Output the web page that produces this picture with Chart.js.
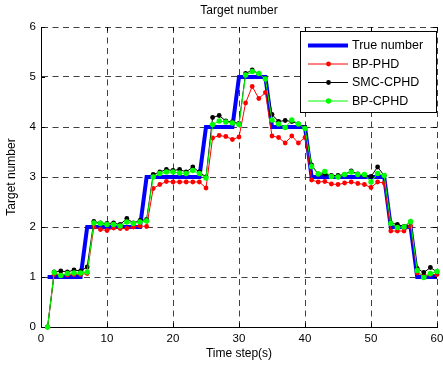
<!DOCTYPE html>
<html>
<head>
<meta charset="utf-8">
<script src="https://cdn.jsdelivr.net/npm/chart.js@4.4.1/dist/chart.umd.min.js"></script>
<style>
html,body{margin:0;padding:0;background:#fff;}
#c{display:block;}
</style>
</head>
<body>
<canvas id="c" width="443" height="367"></canvas>
<script>
const chartTitle = "Target number";
const xAxisTitle = "Time step(s)";
const yAxisTitle = "Target number";
const seriesNames = ["True number", "BP-PHD", "SMC-CPHD", "BP-CPHD"];
const xTicks = [0, 10, 20, 30, 40, 50, 60];
const yTicks = [0, 1, 2, 3, 4, 5, 6];

const timeSteps = [1,2,3,4,5,6,7,8,9,10,11,12,13,14,15,16,17,18,19,20,
  21,22,23,24,25,26,27,28,29,30,31,32,33,34,35,36,37,38,39,40,
  41,42,43,44,45,46,47,48,49,50,51,52,53,54,55,56,57,58,59,60];

const trueNumber = [1,1,1,1,1,1,2,2,2,2,2,2,2,2,2,3,3,3,3,3,
  3,3,3,3,4,4,4,4,4,5,5,5,5,5,4,4,4,4,4,4,
  3,3,3,3,3,3,3,3,3,3,3,3,2,2,2,2,1,1,1,1];

const bpPhd = [0,1.05,1.05,1.04,1.05,1.05,1.07,2.00,1.95,1.93,1.98,1.97,1.97,2.00,2.02,2.01,2.77,2.85,2.91,2.90,
  2.90,2.90,2.90,2.90,2.78,3.78,3.83,3.81,3.75,3.80,4.48,4.81,4.57,4.69,3.82,3.79,3.68,3.82,3.68,3.79,
  2.94,2.90,2.91,2.86,2.85,2.88,2.90,2.87,2.85,2.79,2.90,2.88,1.92,1.92,1.92,2.02,1.08,1.03,1.05,1.05];

const smcCphd = [0,1.10,1.12,1.10,1.14,1.12,1.20,2.11,2.08,2.07,2.08,2.05,2.17,2.08,2.13,2.15,3.05,3.10,3.15,3.13,
  3.15,3.10,3.20,3.10,3.00,4.19,4.23,4.12,4.10,4.07,5.07,5.14,5.06,4.97,4.25,4.11,4.13,4.11,4.06,3.99,
  3.24,3.06,3.06,3.03,3.03,3.05,3.12,3.06,3.03,3.01,3.20,3.03,2.08,2.05,2.01,2.10,1.17,1.09,1.19,1.10];

const bpCphd = [0,1.09,1.03,1.07,1.08,1.08,1.10,2.08,2.07,2.05,2.05,2.02,2.10,2.07,2.10,2.12,3.00,3.07,3.10,3.10,
  3.08,3.07,3.13,3.07,2.98,4.05,4.12,4.10,4.08,4.05,5.04,5.11,5.07,4.96,4.14,4.06,3.99,4.14,4.06,3.97,
  3.21,3.06,3.11,3.01,3.00,3.05,3.10,3.05,3.05,2.90,3.07,3.03,2.07,1.99,2.00,2.11,1.13,0.99,1.07,1.11];

const FONT = "'Liberation Sans', Arial, sans-serif";

function pts(arr) { return timeSteps.map((t, i) => ({ x: t, y: arr[i] })); }

const styles = [
  { color: '#0000ff', width: 4, radius: 0 },
  { color: '#ff0000', width: 1, radius: 2.4 },
  { color: '#000000', width: 1, radius: 2.4 },
  { color: '#00ff00', width: 1, radius: 2.7 }
];
const seriesData = [trueNumber, bpPhd, smcCphd, bpCphd];

const datasets = seriesData.map((arr, i) => ({
  label: seriesNames[i],
  data: pts(arr),
  borderColor: styles[i].color,
  backgroundColor: styles[i].color,
  borderWidth: styles[i].width,
  pointRadius: styles[i].radius,
  pointBorderWidth: 0,
  pointBackgroundColor: styles[i].color,
  tension: 0,
  clip: false,
  order: 4 - i
}));

const decorPlugin = {
  id: 'decor',
  afterDraw(chart) {
    const ctx = chart.ctx;
    const a = chart.chartArea;
    const xs = chart.scales.x, ys = chart.scales.y;
    ctx.save();
    // inward tick marks
    ctx.strokeStyle = '#000';
    ctx.lineWidth = 1;
    ctx.beginPath();
    xTicks.forEach(v => {
      const px = Math.round(xs.getPixelForValue(v)) + 0.5;
      ctx.moveTo(px, a.bottom); ctx.lineTo(px, a.bottom - 4);
      ctx.moveTo(px, a.top); ctx.lineTo(px, a.top + 4);
    });
    yTicks.forEach(v => {
      const py = Math.round(ys.getPixelForValue(v)) + 0.5;
      ctx.moveTo(a.left, py); ctx.lineTo(a.left + 4, py);
      ctx.moveTo(a.right, py); ctx.lineTo(a.right - 4, py);
    });
    ctx.stroke();

    // titles
    ctx.fillStyle = '#000';
    ctx.font = '12px ' + FONT;
    ctx.textAlign = 'center';
    ctx.textBaseline = 'middle';
    const cx = (a.left + a.right) / 2;
    ctx.fillText(chartTitle, cx, 11);
    ctx.fillText(xAxisTitle, cx, 354);
    ctx.save();
    ctx.translate(12, (a.top + a.bottom) / 2);
    ctx.rotate(-Math.PI / 2);
    ctx.fillText(yAxisTitle, 0, 0);
    ctx.restore();

    // legend
    const bx = 300.5, by = 31.5, bw = 136, bh = 81;
    ctx.fillStyle = '#fff';
    ctx.fillRect(bx, by, bw, bh);
    ctx.strokeStyle = '#000';
    ctx.lineWidth = 1;
    ctx.strokeRect(bx, by, bw, bh);
    const rows = [45.5, 64, 82.5, 101];
    ctx.font = '12.5px ' + FONT;
    ctx.textAlign = 'left';
    chart.data.datasets.forEach((ds, i) => {
      const y = rows[i];
      ctx.strokeStyle = ds.borderColor;
      ctx.lineWidth = ds.borderWidth;
      ctx.beginPath();
      ctx.moveTo(308, y); ctx.lineTo(348, y);
      ctx.stroke();
      if (ds.pointRadius > 0) {
        ctx.fillStyle = ds.borderColor;
        ctx.beginPath();
        ctx.arc(328.5, y, ds.pointRadius, 0, Math.PI * 2);
        ctx.fill();
      }
      ctx.fillStyle = '#000';
      ctx.fillText(ds.label, 352, y + 0.5);
    });
    ctx.restore();
  }
};

new Chart(document.getElementById('c'), {
  type: 'line',
  data: { datasets },
  options: {
    responsive: false,
    animation: false,
    devicePixelRatio: 1,
    layout: { padding: { left: 0, right: 6, top: 27, bottom: 0 } },
    plugins: { legend: { display: false }, title: { display: false }, tooltip: { enabled: false } },
    scales: {
      x: {
        type: 'linear', min: 0, max: 60,
        afterBuildTicks: s => { s.ticks = xTicks.map(v => ({ value: v })); },
        afterFit: s => { s.height = 40; s.paddingLeft = 0; s.paddingRight = 0; },
        ticks: { color: '#000', font: { family: FONT, size: 11.5 }, padding: 5, maxRotation: 0, autoSkip: false },
        grid: { color: '#404040', lineWidth: 1, drawTicks: false },
        border: { display: true, color: '#000', width: 1, dash: [6, 4.5] }
      },
      y: {
        type: 'linear', min: 0, max: 6,
        afterBuildTicks: s => { s.ticks = yTicks.map(v => ({ value: v })); },
        afterFit: s => { s.width = 41; s.paddingTop = 0; s.paddingBottom = 0; },
        ticks: { color: '#000', font: { family: FONT, size: 11.5 }, padding: 5, autoSkip: false },
        grid: { color: '#404040', lineWidth: 1, drawTicks: false },
        border: { display: true, color: '#000', width: 1, dash: [6, 4.5] }
      }
    }
  },
  plugins: [decorPlugin]
});
</script>
</body>
</html>
